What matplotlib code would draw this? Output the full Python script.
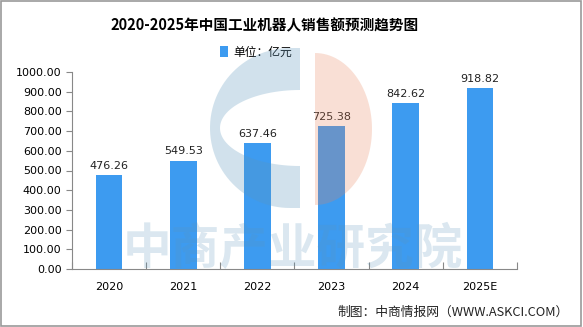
import matplotlib
matplotlib.use("Agg")
import numpy as np
import matplotlib.pyplot as plt
from matplotlib.patches import Rectangle, Polygon

plt.rcParams['font.family'] = ['Noto Sans CJK SC', 'DejaVu Sans']

# 数据
years = ['2020', '2021', '2022', '2023', '2024', '2025E']
sales = [476.26, 549.53, 637.46, 725.38, 842.62, 918.82]
yticks = [0, 100, 200, 300, 400, 500, 600, 700, 800, 900, 1000]

bar_color = '#3D9BF0'

fig = plt.figure(figsize=(5.83, 3.27), dpi=100)

# 边框
fig.patches.append(Rectangle((0.002, 0.003), 0.995, 0.994, transform=fig.transFigure,
                             fill=False, edgecolor='#999999', linewidth=1.2))

ax = fig.add_axes([72 / 583, 1 - 269 / 327, (517 - 72) / 583, (269 - 72) / 327])

x = range(len(years))
ax.bar(x, sales, width=0.36, color=bar_color, label='单位：亿元', zorder=2)
for xi, v in zip(x, sales):
    ax.text(xi, v + 22, f'{v:.2f}', ha='center', va='bottom', fontsize=8, color='#222222',
            family='DejaVu Sans')

ax.set_xlim(-0.5, len(years) - 0.5)
ax.set_ylim(0, 1000)
ax.set_yticks(yticks)
ax.set_yticklabels([f'{t:.2f}' for t in yticks], fontsize=8, family='DejaVu Sans')
ax.set_xticks([i - 0.5 for i in range(len(years) + 1)])
ax.set_xticklabels([])
ax.set_xticks(list(x), minor=True)
ax.set_xticklabels(years, minor=True, fontsize=8, family='DejaVu Sans')
ax.tick_params(axis='x', which='minor', length=0, pad=9)
ax.tick_params(axis='x', which='major', length=5, color='#888888', direction='in')
ax.tick_params(axis='y', length=4, color='#888888', direction='out')
for s in ['top', 'right']:
    ax.spines[s].set_visible(False)
for s in ['left', 'bottom']:
    ax.spines[s].set_color('#888888')

# 水印（覆盖在柱子上方，半透明）
wm = fig.add_axes([0, 0, 1, 1], zorder=5)
wm.set_xlim(0, 583)
wm.set_ylim(327, 0)
wm.axis('off')
t1 = np.linspace(np.pi / 2, 3 * np.pi / 2, 60)
outer = np.column_stack([290 + 80 * np.cos(t1), 128 - 80 * np.sin(t1)])
t2 = np.linspace(3 * np.pi / 2, np.pi / 2, 60)
inner = np.column_stack([300 + 80 * np.cos(t2), 128 - 38 * np.sin(t2)])
c_shape = np.vstack([[[300, 48]], outer, [[300, 208]], inner])
wm.add_patch(Polygon(c_shape, closed=True, facecolor='#5C96BC', alpha=0.28, edgecolor='none'))
t3 = np.linspace(-np.pi / 2, np.pi / 2, 60)
half = np.column_stack([315 + 57 * np.cos(t3), 129 - 76 * np.sin(t3)])
wm.add_patch(Polygon(half, closed=True, facecolor='#E8835A', alpha=0.25, edgecolor='none'))
wm.text(293, 250, '中商产业研究院', fontsize=35, color='#5C96BC', alpha=0.22,
        ha='center', va='center', fontweight='bold')

fig.text(265 / 583, 1 - 25 / 327, '2020-2025年中国工业机器人销售额预测趋势图', ha='center', va='center',
         fontsize=10.5, fontweight='bold')
ax.legend(loc='center', bbox_to_anchor=((256 - 72) / 445, 1.0 + (72 - 52) / 197), frameon=False,
          fontsize=8.5, handlelength=0.7, handleheight=1.1, handletextpad=0.4)
fig.text(0.976, 1 - 312 / 327, '制图：中商情报网（WWW.ASKCI.COM）', ha='right', va='center',
         fontsize=9.2, color='#222222')

fig.savefig('out.png', dpi=100)
